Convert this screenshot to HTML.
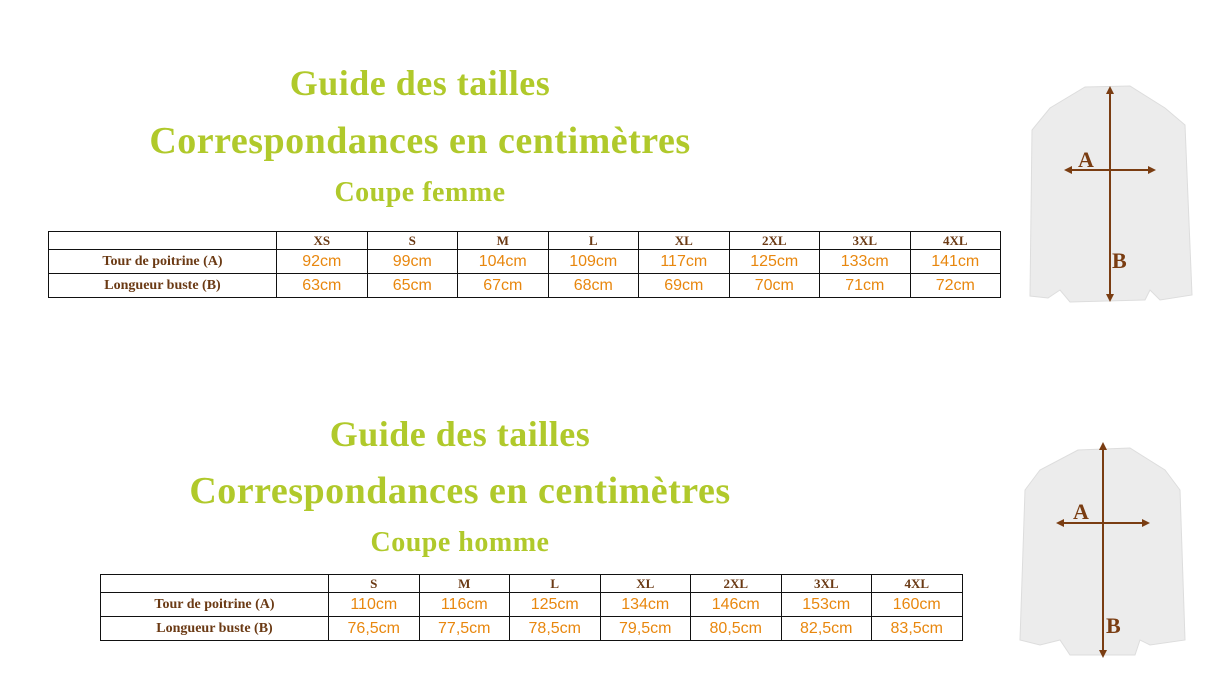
<!DOCTYPE html>
<html><head><meta charset="utf-8"><style>
body{margin:0;width:1227px;height:681px;background:#fff;position:relative;overflow:hidden;font-family:"Liberation Sans",sans-serif}
.t{position:absolute;text-align:center;color:#b0c92b;font-weight:bold;white-space:nowrap;font-family:"Liberation Serif",serif;letter-spacing:0.5px}
table{position:absolute;border-collapse:collapse;table-layout:fixed}
td{border:1.5px solid #111;padding:0;text-align:center;font-size:16px;color:#e8870e;line-height:1}
tr.h td{height:17px;font-size:13px;color:#6b3a14;font-weight:bold;font-family:"Liberation Serif",serif}
tr.r td{height:23px}
td.l{color:#6b3a14;font-weight:bold;font-size:14px;font-family:"Liberation Serif",serif}
</style></head><body>
<div class="t" style="left:120px;width:600px;top:62px;font-size:36px">Guide des tailles</div>
<div class="t" style="left:120px;width:600px;top:119px;font-size:38px">Correspondances en centimètres</div>
<div class="t" style="left:120px;width:600px;top:177px;font-size:28px">Coupe femme</div>
<table style="left:48px;top:231px;width:952px">
<colgroup><col style="width:228px"><col span="8" style="width:90.5px"></colgroup>
<tr class="h"><td></td><td>XS</td><td>S</td><td>M</td><td>L</td><td>XL</td><td>2XL</td><td>3XL</td><td>4XL</td></tr>
<tr class="r"><td class="l">Tour de poitrine (A)</td><td>92cm</td><td>99cm</td><td>104cm</td><td>109cm</td><td>117cm</td><td>125cm</td><td>133cm</td><td>141cm</td></tr>
<tr class="r"><td class="l">Longueur buste (B)</td><td>63cm</td><td>65cm</td><td>67cm</td><td>68cm</td><td>69cm</td><td>70cm</td><td>71cm</td><td>72cm</td></tr>
</table>
<div class="t" style="left:160px;width:600px;top:413px;font-size:36px">Guide des tailles</div>
<div class="t" style="left:160px;width:600px;top:469px;font-size:38px">Correspondances en centimètres</div>
<div class="t" style="left:160px;width:600px;top:527px;font-size:28px">Coupe homme</div>
<table style="left:100px;top:574px;width:862px">
<colgroup><col style="width:228px"><col span="7" style="width:90.5px"></colgroup>
<tr class="h"><td></td><td>S</td><td>M</td><td>L</td><td>XL</td><td>2XL</td><td>3XL</td><td>4XL</td></tr>
<tr class="r"><td class="l">Tour de poitrine (A)</td><td>110cm</td><td>116cm</td><td>125cm</td><td>134cm</td><td>146cm</td><td>153cm</td><td>160cm</td></tr>
<tr class="r"><td class="l">Longueur buste (B)</td><td>76,5cm</td><td>77,5cm</td><td>78,5cm</td><td>79,5cm</td><td>80,5cm</td><td>82,5cm</td><td>83,5cm</td></tr>
</table>
<svg style="position:absolute;left:0;top:0" width="1227" height="681">
<defs><marker id="a" markerWidth="8" markerHeight="8" refX="6" refY="4" orient="auto-start-reverse" markerUnits="userSpaceOnUse"><path d="M0,0L8,4L0,8z" fill="#7a3d12"/></marker></defs>
<path d="M1085,87 L1130,86 L1165,108 L1185,125 L1192,295 L1160,300 L1150,290 L1145,300 L1070,302 L1060,290 L1048,298 L1030,296 L1032,130 L1050,108 Z" fill="#ececec" stroke="#ddd"/>
<path d="M1078,450 L1130,448 L1165,470 L1180,490 L1185,640 L1150,645 L1140,640 L1135,655 L1070,655 L1060,640 L1040,645 L1020,640 L1025,490 L1040,470 Z" fill="#ececec" stroke="#ddd"/>
<g stroke="#7a3d12" stroke-width="2" marker-start="url(#a)" marker-end="url(#a)">
<line x1="1110" y1="88" x2="1110" y2="300"/>
<line x1="1066" y1="170" x2="1154" y2="170"/>
<line x1="1103" y1="444" x2="1103" y2="656"/>
<line x1="1058" y1="523" x2="1148" y2="523"/>
</g>
<g fill="#7a3d12" font-family="Liberation Serif,serif" font-weight="bold" font-size="22">
<text x="1078" y="167">A</text><text x="1112" y="268">B</text>
<text x="1073" y="519">A</text><text x="1106" y="633">B</text>
</g>
</svg>
</body></html>
